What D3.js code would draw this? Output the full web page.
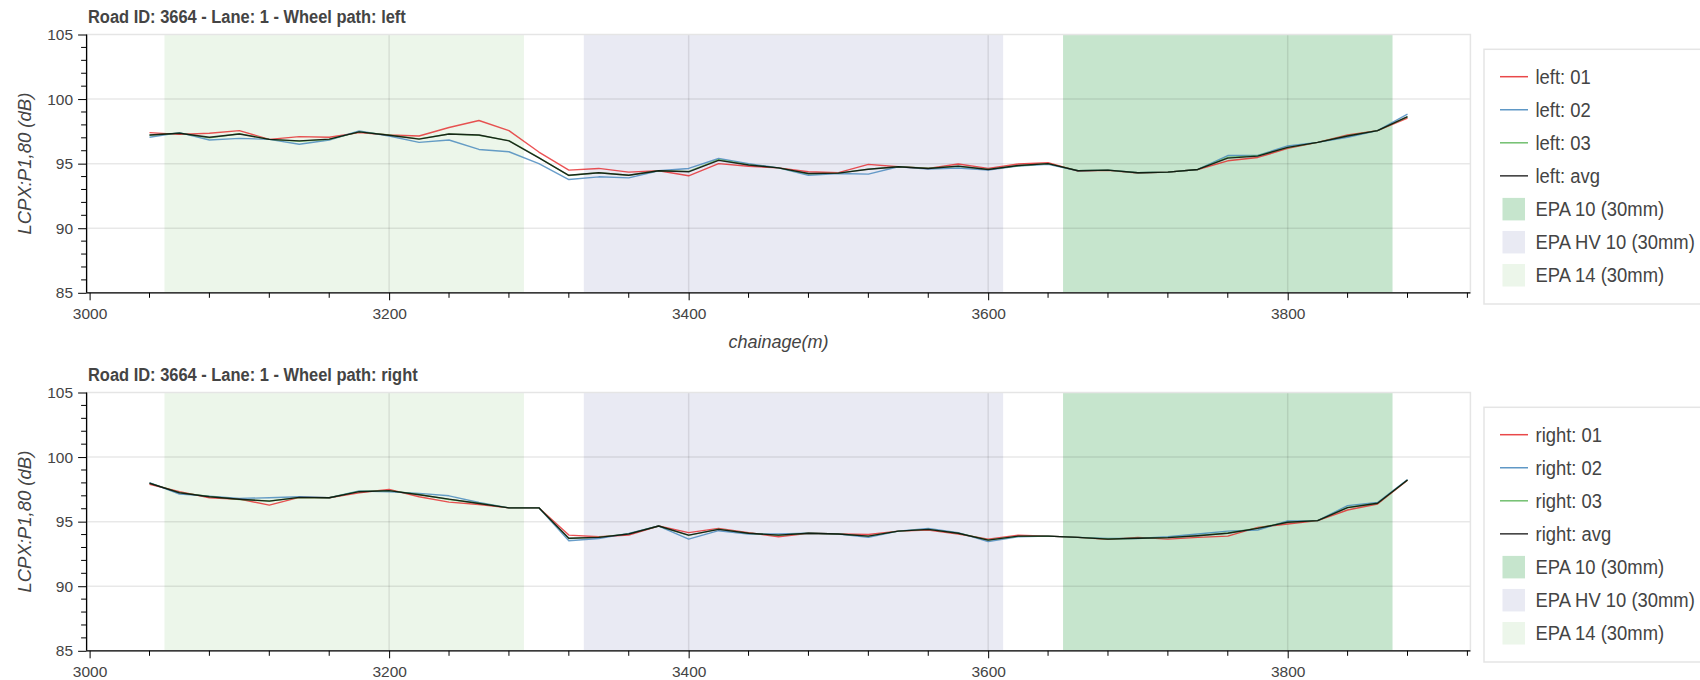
<!DOCTYPE html>
<html>
<head>
<meta charset="utf-8">
<script src="https://cdn.jsdelivr.net/npm/d3@7"></script>
<style>
  html, body { margin: 0; padding: 0; background: #fff; }
  svg { display: block; font-family: "Liberation Sans", Arial, Helvetica, sans-serif; }
</style>
</head>
<body>
<svg id="chart" width="1700" height="680"></svg>
<script>
// Chainage (m) of each measurement
const chainage = [3040, 3060, 3080, 3100, 3120, 3140, 3160, 3180, 3200, 3220, 3240, 3260, 3280, 3300, 3320,
  3340, 3360, 3380, 3400, 3420, 3440, 3460, 3480, 3500, 3520, 3540, 3560, 3580, 3600, 3620, 3640,
  3660, 3680, 3700, 3720, 3740, 3760, 3780, 3800, 3820, 3840, 3860, 3880];

// Left wheel path, LCPX:P1,80 (dB)
const left01 = [97.40, 97.27, 97.35, 97.56, 96.88, 97.09, 97.04, 97.40, 97.22, 97.14, 97.80, 98.34, 97.56, 95.90, 94.50,
  94.63, 94.34, 94.45, 94.06, 95.00, 94.80, 94.67, 94.37, 94.30, 94.94, 94.76, 94.63, 94.97, 94.63, 94.97, 95.07,
  94.42, 94.48, 94.27, 94.34, 94.55, 95.22, 95.48, 96.18, 96.65, 97.22, 97.56, 98.52];
const left02 = [97.04, 97.40, 96.83, 96.96, 96.88, 96.50, 96.83, 97.53, 97.14, 96.65, 96.83, 96.10, 95.92, 95.00, 93.77,
  93.98, 93.90, 94.45, 94.63, 95.40, 95.00, 94.67, 94.10, 94.24, 94.19, 94.76, 94.58, 94.66, 94.50, 94.81, 94.94,
  94.45, 94.50, 94.29, 94.34, 94.55, 95.63, 95.63, 96.37, 96.65, 97.04, 97.56, 98.83];
const left03 = [97.20, 97.36, 97.00, 97.32, 96.88, 96.74, 96.88, 97.46, 97.22, 96.92, 97.30, 97.20, 96.78, 95.46, 94.08,
  94.30, 94.10, 94.45, 94.40, 95.30, 94.92, 94.67, 94.22, 94.27, 94.58, 94.76, 94.64, 94.80, 94.56, 94.84, 95.00,
  94.46, 94.50, 94.30, 94.34, 94.55, 95.48, 95.62, 96.24, 96.65, 97.16, 97.56, 98.62];
const leftAvg = [97.22, 97.35, 97.04, 97.30, 96.88, 96.76, 96.90, 97.46, 97.20, 96.90, 97.30, 97.22, 96.76, 95.45, 94.10,
  94.30, 94.10, 94.45, 94.37, 95.25, 94.90, 94.67, 94.24, 94.27, 94.57, 94.76, 94.63, 94.81, 94.55, 94.86, 95.00,
  94.45, 94.50, 94.29, 94.34, 94.55, 95.43, 95.58, 96.26, 96.65, 97.14, 97.56, 98.65];

// Right wheel path, LCPX:P1,80 (dB)
const right01 = [97.90, 97.32, 96.85, 96.74, 96.28, 96.88, 96.85, 97.24, 97.50, 96.93, 96.51, 96.33, 96.07, 96.07, 93.96,
  93.83, 93.96, 94.66, 94.15, 94.48, 94.15, 93.83, 94.10, 94.04, 94.00, 94.27, 94.35, 94.04, 93.65, 93.96, 93.88,
  93.78, 93.63, 93.78, 93.65, 93.78, 93.88, 94.56, 94.82, 95.08, 95.90, 96.37, 98.20];
const right02 = [98.02, 97.14, 96.98, 96.80, 96.85, 96.93, 96.85, 97.37, 97.32, 97.19, 97.00, 96.48, 96.07, 96.07, 93.52,
  93.70, 94.09, 94.66, 93.65, 94.30, 94.04, 94.04, 94.10, 94.04, 93.78, 94.27, 94.48, 94.15, 93.45, 93.83, 93.88,
  93.78, 93.70, 93.70, 93.83, 94.04, 94.27, 94.35, 95.05, 95.08, 96.24, 96.48, 98.26];
const right03 = [97.98, 97.25, 96.95, 96.72, 96.60, 96.86, 96.85, 97.34, 97.40, 97.10, 96.72, 96.42, 96.07, 96.07, 93.70,
  93.80, 94.05, 94.66, 93.94, 94.42, 94.10, 93.95, 94.10, 94.04, 93.88, 94.27, 94.40, 94.10, 93.58, 93.86, 93.88,
  93.78, 93.66, 93.72, 93.76, 93.92, 94.12, 94.50, 94.96, 95.08, 96.10, 96.42, 98.22];
const rightAvg = [97.97, 97.24, 96.93, 96.74, 96.59, 96.88, 96.85, 97.32, 97.40, 97.08, 96.74, 96.41, 96.07, 96.07, 93.72,
  93.78, 94.04, 94.66, 93.96, 94.40, 94.10, 93.96, 94.10, 94.04, 93.88, 94.27, 94.40, 94.10, 93.57, 93.88, 93.88,
  93.78, 93.65, 93.72, 93.76, 93.91, 94.10, 94.48, 94.95, 95.08, 96.09, 96.42, 98.23];

// Surface type sections along the road: [start, end] chainage
const bandNames = ["EPA 10 (30mm)", "EPA HV 10 (30mm)", "EPA 14 (30mm)"];
const bandStart = [3650, 3330, 3050];
const bandEnd = [3870, 3610, 3290];
const bandColors = ["#c6e5cd", "#e9eaf3", "#ecf6ea"];

const seriesColors = ["#e41a1c", "#377eb8", "#4daf4a", "#000000"];
const seriesSuffix = ["01", "02", "03", "avg"];

// Axis ticks
const xMajorTicks = [3000, 3200, 3400, 3600, 3800];
const yMajorTicks = [85, 90, 95, 100, 105];
const xDomain = [2998, 3922];
const yDomain = [85, 105];

const svg = d3.select("#chart");
const textColor = "#444";

// Text drawn slightly narrow, the way the plot's sans-serif renders
function narrowText(parent, x, y, size, sx) {
  return parent.append("text")
    .attr("transform", `translate(${x},${y}) scale(${sx},1)`)
    .attr("fill", textColor)
    .style("font-size", size + "px");
}

function drawPanel(opts) {
  const { top, title, side, series, showXLabel } = opts;
  const plotLeft = 86.6, plotRight = 1470.4;
  const plotTop = top, plotBottom = top + 258.3;

  const x = d3.scaleLinear().domain(xDomain).range([plotLeft, plotRight]);
  const y = d3.scaleLinear().domain(yDomain).range([plotBottom, plotTop]);

  const g = svg.append("g");

  // Surface sections
  g.selectAll("rect.band")
    .data(bandNames.map((n, i) => ({ name: n, s: bandStart[i], e: bandEnd[i], c: bandColors[i] })))
    .join("rect")
    .attr("class", "band")
    .attr("x", d => x(d.s))
    .attr("width", d => x(d.e) - x(d.s))
    .attr("y", plotTop)
    .attr("height", plotBottom - plotTop)
    .attr("fill", d => d.c);

  // Grid
  const grid = g.append("g").attr("stroke", "rgba(0,0,0,0.09)").attr("stroke-width", 1.5);
  grid.selectAll("line.gy").data(yMajorTicks.slice(1, -1)).join("line")
    .attr("x1", plotLeft).attr("x2", plotRight)
    .attr("y1", d => y(d)).attr("y2", d => y(d));
  grid.selectAll("line.gx").data(xMajorTicks.slice(1)).join("line")
    .attr("y1", plotTop).attr("y2", plotBottom)
    .attr("x1", d => x(d)).attr("x2", d => x(d));

  // Plot outline
  g.append("rect")
    .attr("x", plotLeft).attr("y", plotTop)
    .attr("width", plotRight - plotLeft).attr("height", plotBottom - plotTop)
    .attr("fill", "none").attr("stroke", "#e5e5e5").attr("stroke-width", 1.5);

  // Series lines
  const line = d3.line().x((d, i) => x(chainage[i])).y(d => y(d));
  series.forEach((vals, k) => {
    g.append("path")
      .datum(vals)
      .attr("d", line)
      .attr("fill", "none")
      .attr("stroke", seriesColors[k])
      .attr("stroke-opacity", k === 3 ? 0.8 : 0.75)
      .attr("stroke-width", 1.4)
      .attr("stroke-linejoin", "round");
  });

  // X axis
  const xAxis = d3.axisBottom(x)
    .tickValues(xMajorTicks)
    .tickFormat(d3.format("d"))
    .tickSizeInner(7.5).tickSizeOuter(0).tickPadding(8);
  const xg = g.append("g").attr("transform", `translate(0,${plotBottom})`).call(xAxis);
  const xMinor = d3.range(3040, 3921, 40).filter(v => !xMajorTicks.includes(v));
  xg.selectAll("line.minor").data(xMinor).join("line")
    .attr("class", "minor")
    .attr("x1", d => x(d)).attr("x2", d => x(d))
    .attr("y1", 0).attr("y2", 5)
    .attr("stroke", "#000");
  xg.select(".domain").attr("stroke", "#000").attr("stroke-width", 1.3)
    .attr("d", `M${plotLeft},0H${plotRight}`);
  xg.selectAll(".tick line").attr("stroke", "#000");
  xg.selectAll(".tick text")
    .attr("fill", textColor)
    .style("font-size", "15.5px")
    .style("font-family", "'Liberation Sans', Arial, sans-serif");

  // Y axis
  const yAxis = d3.axisLeft(y)
    .tickValues(yMajorTicks)
    .tickFormat(d3.format("d"))
    .tickSizeInner(8.5).tickSizeOuter(0).tickPadding(5);
  const yg = g.append("g").attr("transform", `translate(${plotLeft},0)`).call(yAxis);
  const yMinor = d3.range(86, 105, 1).filter(v => v % 5 !== 0);
  yg.selectAll("line.minor").data(yMinor).join("line")
    .attr("class", "minor")
    .attr("x1", 0).attr("x2", -5.5)
    .attr("y1", d => y(d)).attr("y2", d => y(d))
    .attr("stroke", "#000");
  yg.select(".domain").attr("stroke", "#000").attr("stroke-width", 1.3)
    .attr("d", `M0,${plotTop}V${plotBottom}`);
  yg.selectAll(".tick line").attr("stroke", "#000");
  yg.selectAll(".tick text")
    .attr("fill", textColor)
    .style("font-size", "15.5px")
    .style("font-family", "'Liberation Sans', Arial, sans-serif");

  // Y axis label
  g.append("text")
    .attr("transform", `translate(31,${(plotTop + plotBottom) / 2}) rotate(-90)`)
    .attr("text-anchor", "middle")
    .attr("fill", textColor)
    .style("font-size", "18.5px")
    .style("font-style", "italic")
    .text("LCPX:P1,80 (dB)");

  if (showXLabel) {
    narrowText(g, (plotLeft + plotRight) / 2, plotBottom + 55, 19, 0.95)
      .attr("text-anchor", "middle")
      .style("font-style", "italic")
      .text("chainage(m)");
  }

  // Title
  narrowText(g, 88, plotTop - 11.5, 17.6, 0.935)
    .style("font-weight", "bold")
    .text(title);

  // Legend
  const lgX = 1484, lgTop = plotTop + 14.8, lgH = 254.7;
  const lg = g.append("g");
  lg.append("rect")
    .attr("x", lgX).attr("y", lgTop)
    .attr("width", 260).attr("height", lgH)
    .attr("fill", "#fff").attr("stroke", "#e5e5e5").attr("stroke-width", 1.5);
  const items = seriesSuffix.map((s, i) => ({ kind: "line", label: `${side}: ${s}`, color: seriesColors[i] }))
    .concat(bandNames.map((n, i) => ({ kind: "patch", label: n, color: bandColors[i] })));
  const rowY = d3.scaleLinear().domain([0, 6]).range([plotTop + 42.2, plotTop + 240.5]);
  items.forEach((it, i) => {
    const cy = rowY(i);
    if (it.kind === "line") {
      lg.append("line")
        .attr("x1", 1500).attr("x2", 1528)
        .attr("y1", cy).attr("y2", cy)
        .attr("stroke", it.color).attr("stroke-opacity", 0.8).attr("stroke-width", 1.5);
    } else {
      lg.append("rect")
        .attr("x", 1502.5).attr("y", cy - 11)
        .attr("width", 22.5).attr("height", 22.5)
        .attr("fill", it.color);
    }
    narrowText(lg, 1535.5, cy, 19.4, 0.95)
      .attr("dy", "0.36em")
      .text(it.label);
  });
}

drawPanel({
  top: 34.5,
  title: "Road ID: 3664 - Lane: 1 - Wheel path: left",
  side: "left",
  series: [left01, left02, left03, leftAvg],
  showXLabel: true
});

drawPanel({
  top: 392.5,
  title: "Road ID: 3664 - Lane: 1 - Wheel path: right",
  side: "right",
  series: [right01, right02, right03, rightAvg],
  showXLabel: false
});
</script>
</body>
</html>
